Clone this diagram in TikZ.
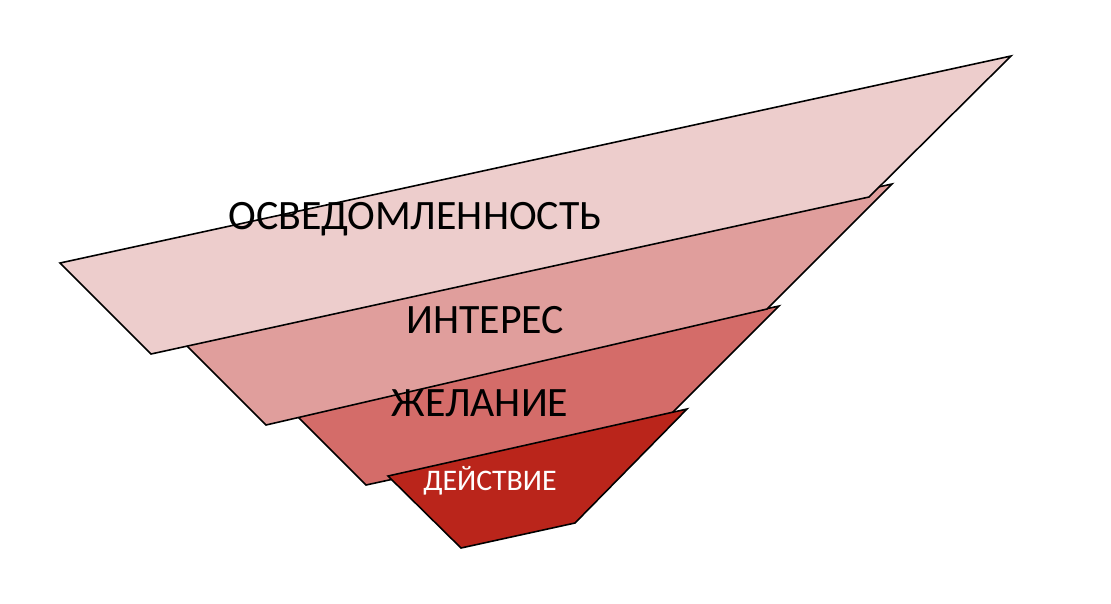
\documentclass[tikz,border=0pt]{standalone}
\usepackage{fontspec}
\setmainfont{Carlito}
\usepackage{tikz}
\definecolor{awareness}{HTML}{EDCDCC}
\definecolor{interest}{HTML}{E09E9C}
\definecolor{desire}{HTML}{D46C69}
\definecolor{action}{HTML}{BA251B}

\begin{document}
\begin{tikzpicture}[x=0.02cm,y=-0.02cm,
        layer/.style={draw=black,line width=0.9pt,line join=miter},
        stagetext/.style={anchor=base,inner sep=0pt,font=\fontsize{23.8}{28}\selectfont}]
        \useasboundingbox (0,0) rectangle (1111,603);
        % funnel layers, bottom ones first
        \filldraw[layer,fill=desire] (293,412) -- (779,306) -- (665,420) -- (366,485) -- cycle;
        \filldraw[layer,fill=action] (388,476) -- (687,409) -- (575,523) -- (461,548) -- cycle;
        \filldraw[layer,fill=interest] (180,339) -- (892,184) -- (767,309) -- (266,425) -- cycle;
        \filldraw[layer,fill=awareness] (60,263) -- (1011,56) -- (869,197) -- (151,354) -- cycle;
        % stage names
        \node[stagetext] (aware) at (415,229) {ОСВЕДОМЛЕННОСТЬ};
        \node[stagetext] (inter) at (485,333) {ИНТЕРЕС};
        \node[stagetext] (want) at (480,416) {ЖЕЛАНИЕ};
        \node[stagetext,white,font=\fontsize{17}{20}\selectfont] (act) at (490,490) {ДЕЙСТВИЕ};
    \end{tikzpicture}
\end{document}
